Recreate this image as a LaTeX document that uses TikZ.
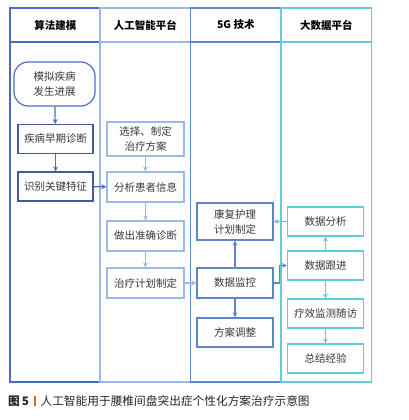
\documentclass[tikz,border=0pt]{standalone}
\usepackage{fontspec}
\setmainfont{Noto Sans CJK SC}
\usetikzlibrary{arrows.meta, positioning}
\definecolor{LaneA}{rgb}{0.30, 0.42, 0.76}
\definecolor{LaneB}{rgb}{0.61, 0.73, 0.89}
\definecolor{LaneC}{rgb}{0.36, 0.53, 0.77}
\definecolor{LaneD}{rgb}{0.37, 0.81, 0.85}
\definecolor{BoxA}{rgb}{0.27, 0.35, 0.62}
\definecolor{TextGray}{rgb}{0.22, 0.22, 0.22}
\definecolor{CapOrange}{rgb}{0.85, 0.42, 0.12}
\def\w{90.5}

\begin{document}
\begin{tikzpicture}[x=1pt, y=-1pt,
    font=\fontsize{10.5}{15}\selectfont, text=TextGray,
    box/.style={draw, line width=1.2pt, fill=white, align=center,
        minimum width=76pt, minimum height=29pt, inner sep=1pt},
    arr/.style={line width=1.2pt, -{Stealth[length=5pt, width=5pt]}}]

\useasboundingbox (0,0) rectangle (409,420);

% lanes
\foreach \x/\c/\t [count=\i] in {%
    10/LaneA/算法建模,
    100/LaneB/人工智能平台,
    190.5/LaneC/5G 技术,
    281/LaneD/大数据平台}{%
    \draw[\c, line width=1.4pt] (\x,8) rectangle ({\x+\w},382);
    \draw[\c, line width=1.4pt] (\x,42) -- ({\x+\w},42);
    \node[font=\fontsize{10.5}{15}\selectfont\bfseries, text=black]
        (head\i) at ({\x+\w/2},25) {\t};
}

% algorithm modelling
\node[box, draw=LaneA, rounded corners=14pt, minimum width=81pt,
    minimum height=44pt] (model) at (54.5,84) {模拟疾病\\发生进展};
\node[box, draw=BoxA, minimum width=75pt] (early) at (55.5,139) {疾病早期诊断};
\node[box, draw=BoxA, minimum width=75pt] (feature) at (55.5,186.5) {识别关键特征};

% AI platform
\node[box, draw=LaneB, minimum width=77pt, minimum height=34pt]
    (plan) at (145.5,139) {选择、制定\\治疗方案};
\node[box, draw=LaneB, minimum width=77pt, minimum height=30pt]
    (info) at (145.5,187) {分析患者信息};
\node[box, draw=LaneB, minimum width=77pt, minimum height=30pt]
    (diagnose) at (145.5,236) {做出准确诊断};
\node[box, draw=LaneB, minimum width=77pt, minimum height=30pt]
    (treat) at (145.5,283) {治疗计划制定};

% 5G
\node[box, draw=LaneC, minimum height=37pt] (rehab) at (235,221.5) {康复护理\\计划制定};
\node[box, draw=LaneC, minimum height=30pt] (monitor) at (235,283) {数据监控};
\node[box, draw=LaneC] (adjust) at (235,332.5) {方案调整};

% big data
\node[box, draw=LaneD] (analysis) at (325.5,221.5) {数据分析};
\node[box, draw=LaneD] (follow) at (325.5,265.5) {数据跟进};
\node[box, draw=LaneD] (effect) at (325.5,313.5) {疗效监测随访};
\node[box, draw=LaneD] (summary) at (325.5,358.5) {总结经验};

% arrows
\draw[arr, LaneA] (model) -- (early);
\draw[arr, LaneA] (early) -- (feature);
\draw[arr, LaneA] (feature) -- (info);
\draw[arr, LaneB] (plan) -- (info);
\draw[arr, LaneB] (info) -- (diagnose);
\draw[arr, LaneB] (diagnose) -- (treat);
\draw[arr, LaneB] (treat) -- (monitor);
\draw[arr, LaneC] (monitor) -- (rehab);
\draw[arr, LaneC] (monitor) -- (adjust);
\draw[arr, LaneC] (monitor.east) -- ++(6,0) |- (follow.west);
\draw[arr, LaneD] (follow) -- (analysis);
\draw[arr, LaneD] (analysis) -- (rehab);
\draw[arr, LaneD] (follow) -- (effect);
\draw[arr, LaneD] (effect) -- (summary);

% caption
\node[anchor=west, inner sep=0pt, text=black!85, font=\fontsize{11.7}{14}\selectfont]
    (caption) at (8,401) {\textbf{图\,5}\hspace{5pt}{\color{CapOrange}\rule[-1pt]{1.6pt}{10pt}}\hspace{5pt}人工智能用于腰椎间盘突出症个性化方案治疗示意图};

\end{tikzpicture}
\end{document}
